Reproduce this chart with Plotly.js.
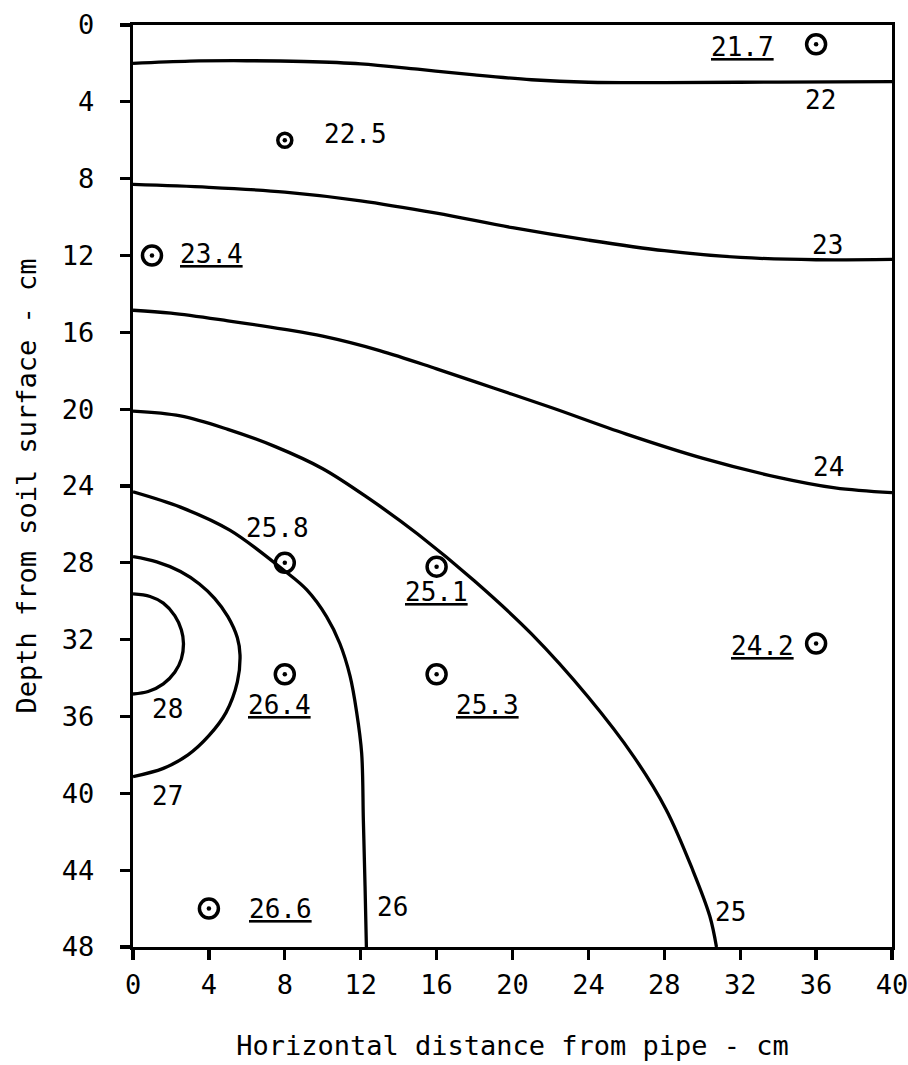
<!DOCTYPE html>
<html>
<head>
<meta charset="utf-8">
<script src="https://cdn.plot.ly/plotly-3.0.1.min.js"></script>
<style>
  html, body { margin: 0; padding: 0; background: #ffffff; }
  #chart { width: 908px; height: 1065px; }
</style>
</head>
<body>
<div id="chart"></div>
<script>
// Isotherms around a buried heated pipe.
// x = horizontal distance from pipe (cm), y = depth from soil surface (cm)
const iso22X = [0, 3, 6, 9, 12, 15, 18, 21, 24, 28, 34, 40];
const iso22Y = [2.0, 1.88, 1.86, 1.9, 2.02, 2.3, 2.6, 2.85, 2.98, 3.0, 2.97, 2.95];

const iso23X = [0, 4, 8, 12, 16, 20, 24, 28, 32, 36, 40];
const iso23Y = [8.3, 8.45, 8.7, 9.15, 9.8, 10.55, 11.2, 11.75, 12.1, 12.22, 12.2];

const iso24X = [0, 2, 5, 8, 10, 13, 16, 19, 22, 26, 30, 34, 37, 40];
const iso24Y = [14.85, 15.0, 15.4, 15.85, 16.2, 16.95, 17.9, 18.9, 19.9, 21.3, 22.55, 23.55, 24.1, 24.35];

const iso25X = [0, 2.5, 5, 7.5, 10, 12.5, 15, 18, 21, 24, 26.4, 28.1, 29.5, 30.4, 30.75];
const iso25Y = [20.1, 20.35, 21.05, 21.95, 23.1, 24.7, 26.5, 28.95, 31.7, 35.0, 38.1, 40.85, 44.0, 46.4, 48];

const iso26X = [0, 2.5, 5.1, 7.9, 9.15, 10.2, 10.9, 11.44, 11.79, 12.05, 12.14, 12.23, 12.3];
const iso26Y = [24.3, 25.1, 26.3, 28.35, 29.4, 30.8, 32.2, 33.9, 35.8, 37.9, 41.4, 44.85, 48];

const iso27X = [0, 1.25, 2.5, 3.5, 4.3, 5.0, 5.5, 5.64, 5.5, 4.9, 4.0, 2.9, 1.6, 0];
const iso27Y = [27.68, 27.95, 28.45, 29.1, 29.85, 30.8, 31.9, 32.8, 34.2, 35.8, 37.0, 38.0, 38.7, 39.13];

const iso28X = [0, 0.9, 1.6, 2.2, 2.55, 2.66, 2.55, 2.2, 1.6, 0.8, 0];
const iso28Y = [29.62, 29.75, 30.1, 30.75, 31.5, 32.2, 33.0, 33.7, 34.3, 34.7, 34.83];

const isoLevels = [22, 23, 24, 25, 26, 27, 28];

// Measured soil temperatures (°C) at the probe locations
const probeX = [36, 8, 1, 8, 16, 8, 16, 36, 4];
const probeY = [1, 6, 12, 28, 28.2, 33.8, 33.8, 32.2, 46];
const probeTemp = [21.7, 22.5, 23.4, 25.8, 25.1, 26.4, 25.3, 24.2, 26.6];
const probeUnderlined = [true, false, true, false, true, true, true, true, true];

const xTickVals = [0, 4, 8, 12, 16, 20, 24, 28, 32, 36, 40];
const yTickVals = [0, 4, 8, 12, 16, 20, 24, 28, 32, 36, 40, 44, 48];

// ---- styling / placement ----
const FONT = 'DejaVu Sans Mono, monospace';
const INK = '#000000';

// pixel offsets of each probe label from its probe
const probeLabelShift = [[-74, -3], [71, 6], [60, 2], [-7, 35], [0, -25], [-5, -31], [51, -31], [-54, -2], [72, 0]];
const probeMarkerSize = [19, 14, 19, 19, 19, 19, 19, 19, 19];

// pixel offsets of each isotherm label from the isotherm's last point
const isoLabelShift = [[-72, -18], [-65, 14], [-64, 26], [14, 35], [26, 40], [34, -19], [34, -15]];

const isoXs = [iso22X, iso23X, iso24X, iso25X, iso26X, iso27X, iso28X];
const isoYs = [iso22Y, iso23Y, iso24Y, iso25Y, iso26Y, iso27Y, iso28Y];

const traces = [];
isoXs.forEach((xs, i) => {
  traces.push({
    type: 'scatter', mode: 'lines',
    x: xs, y: isoYs[i],
    line: { color: INK, width: 3.3, shape: 'spline', smoothing: 1 },
    hoverinfo: 'skip', showlegend: false
  });
});

// probe rings
traces.push({
  type: 'scatter', mode: 'markers',
  x: probeX, y: probeY,
  marker: { symbol: 'circle-open', size: probeMarkerSize, color: INK, opacity: 1, line: { width: 3.5, color: INK } },
  hoverinfo: 'skip', showlegend: false, cliponaxis: false
});
// probe centre dots
traces.push({
  type: 'scatter', mode: 'markers',
  x: probeX, y: probeY,
  marker: { symbol: 'circle', size: 4.5, color: INK, opacity: 1 },
  hoverinfo: 'skip', showlegend: false, cliponaxis: false
});

const annotations = [];
probeTemp.forEach((t, i) => {
  annotations.push({
    x: probeX[i], y: probeY[i], xref: 'x', yref: 'y',
    text: t.toFixed(1), showarrow: false,
    xanchor: 'center', yanchor: 'middle',
    xshift: probeLabelShift[i][0], yshift: probeLabelShift[i][1],
    font: { family: FONT, size: 26, color: INK, lineposition: probeUnderlined[i] ? 'under' : 'none' }
  });
});
isoLevels.forEach((lv, i) => {
  const xs = isoXs[i], ys = isoYs[i];
  annotations.push({
    x: xs[xs.length - 1], y: ys[ys.length - 1], xref: 'x', yref: 'y',
    text: String(lv), showarrow: false,
    xanchor: 'center', yanchor: 'middle',
    xshift: isoLabelShift[i][0], yshift: isoLabelShift[i][1],
    font: { family: FONT, size: 26, color: INK }
  });
});

const axisCommon = {
  showgrid: false, zeroline: false,
  showline: true, mirror: true, linecolor: INK, linewidth: 3.3,
  ticks: 'outside', ticklen: 10, tickwidth: 3.3, tickcolor: INK,
  tickfont: { family: FONT, size: 27, color: INK },
  ticklabeloverflow: 'allow',
  automargin: false, fixedrange: true
};

const layout = {
  width: 908, height: 1065,
  margin: { l: 133, r: 16, t: 25, b: 118 },
  paper_bgcolor: '#ffffff', plot_bgcolor: '#ffffff',
  showlegend: false,
  font: { family: FONT, color: INK },
  xaxis: Object.assign({}, axisCommon, {
    range: [0, 40], tickmode: 'array', tickvals: xTickVals,
    ticktext: xTickVals.map(String), ticklabelstandoff: 1,
    title: { text: 'Horizontal distance from pipe - cm', font: { family: FONT, size: 27, color: INK }, standoff: 38 }
  }),
  yaxis: Object.assign({}, axisCommon, {
    range: [48, 0], tickmode: 'array', tickvals: yTickVals,
    ticktext: yTickVals.map(String), ticklabelstandoff: 20,
    title: { text: 'Depth from soil surface - cm', font: { family: FONT, size: 27, color: INK }, standoff: 18 }
  }),
  annotations: annotations
};

Plotly.newPlot('chart', traces, layout, { displayModeBar: false, staticPlot: true });
</script>
</body>
</html>
